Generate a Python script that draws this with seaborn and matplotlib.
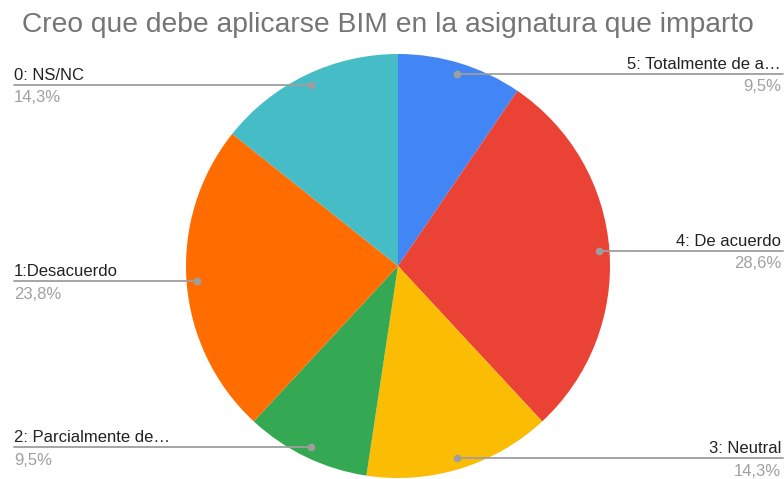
import numpy as np
import matplotlib
matplotlib.use("Agg")
import matplotlib.pyplot as plt
import seaborn as sns

sns.set_theme(style="white")
plt.rcParams["font.family"] = ["Liberation Sans", "DejaVu Sans"]

# Responses, clockwise from the top of the pie
categories = ["5: Totalmente de a…", "4: De acuerdo", "3: Neutral",
              "2: Parcialmente de…", "1:Desacuerdo", "0: NS/NC"]
counts = [2, 6, 3, 2, 5, 3]
colors = ["#4285F4", "#EA4335", "#FBBC04", "#34A853", "#FF6D01", "#46BDC6"]
title = "Creo que debe aplicarse BIM en la asignatura que imparto"

W, H = 784, 479
fig = plt.figure(figsize=(W / 100, H / 100), dpi=100)

# Pie geometry in pixels
cx, cy, R = 398, 266, 212
ax = fig.add_axes([(cx - R) / W, (H - cy - R) / H, 2 * R / W, 2 * R / H])
wedges, _ = ax.pie(counts, colors=colors, startangle=90, counterclock=False,
                   radius=1, wedgeprops=dict(linewidth=0))
ax.set_xlim(-1, 1)
ax.set_ylim(-1, 1)
ax.set_aspect("auto")
ax.axis("off")

total = sum(counts)
line_color = "#9E9E9E"
for w, cat, n in zip(wedges, categories, counts):
    mid = np.deg2rad((w.theta1 + w.theta2) / 2)
    dx, dy = 0.95 * np.cos(mid), 0.95 * np.sin(mid)
    # dot position in figure pixels
    px = cx + dx * R
    py = H - (cy - dy * R)
    pct = f"{100 * n / total:.1f}".replace(".", ",") + "%"
    if dx >= 0:
        x0, x1, tx, ha = px, W - 1, W - 3, "right"
    else:
        x0, x1, tx, ha = 14, px, 14, "left"
    fig.add_artist(plt.Line2D([x0 / W, x1 / W], [py / H, py / H],
                              color=line_color, lw=1.3, transform=fig.transFigure))
    fig.add_artist(plt.Line2D([px / W], [py / H], marker="o", ms=4.5,
                              color=line_color, transform=fig.transFigure))
    fig.text(tx / W, (py + 5) / H, cat, ha=ha, va="baseline",
             fontsize=12, color="#222222")
    fig.text(tx / W, (py - 17.5) / H, pct, ha=ha, va="baseline",
             fontsize=12, color="#A0A0A0")

t = fig.text(22 / W, (H - 32) / H, title, ha="left", va="baseline",
             fontsize=20, color="#757575")
# fit the title to its horizontal span (x = 22..753 px)
fig.canvas.draw()
wpx = t.get_window_extent().width
t.set_fontsize(20 * 731 / wpx)

fig.savefig("out.png", dpi=100, facecolor="white")
